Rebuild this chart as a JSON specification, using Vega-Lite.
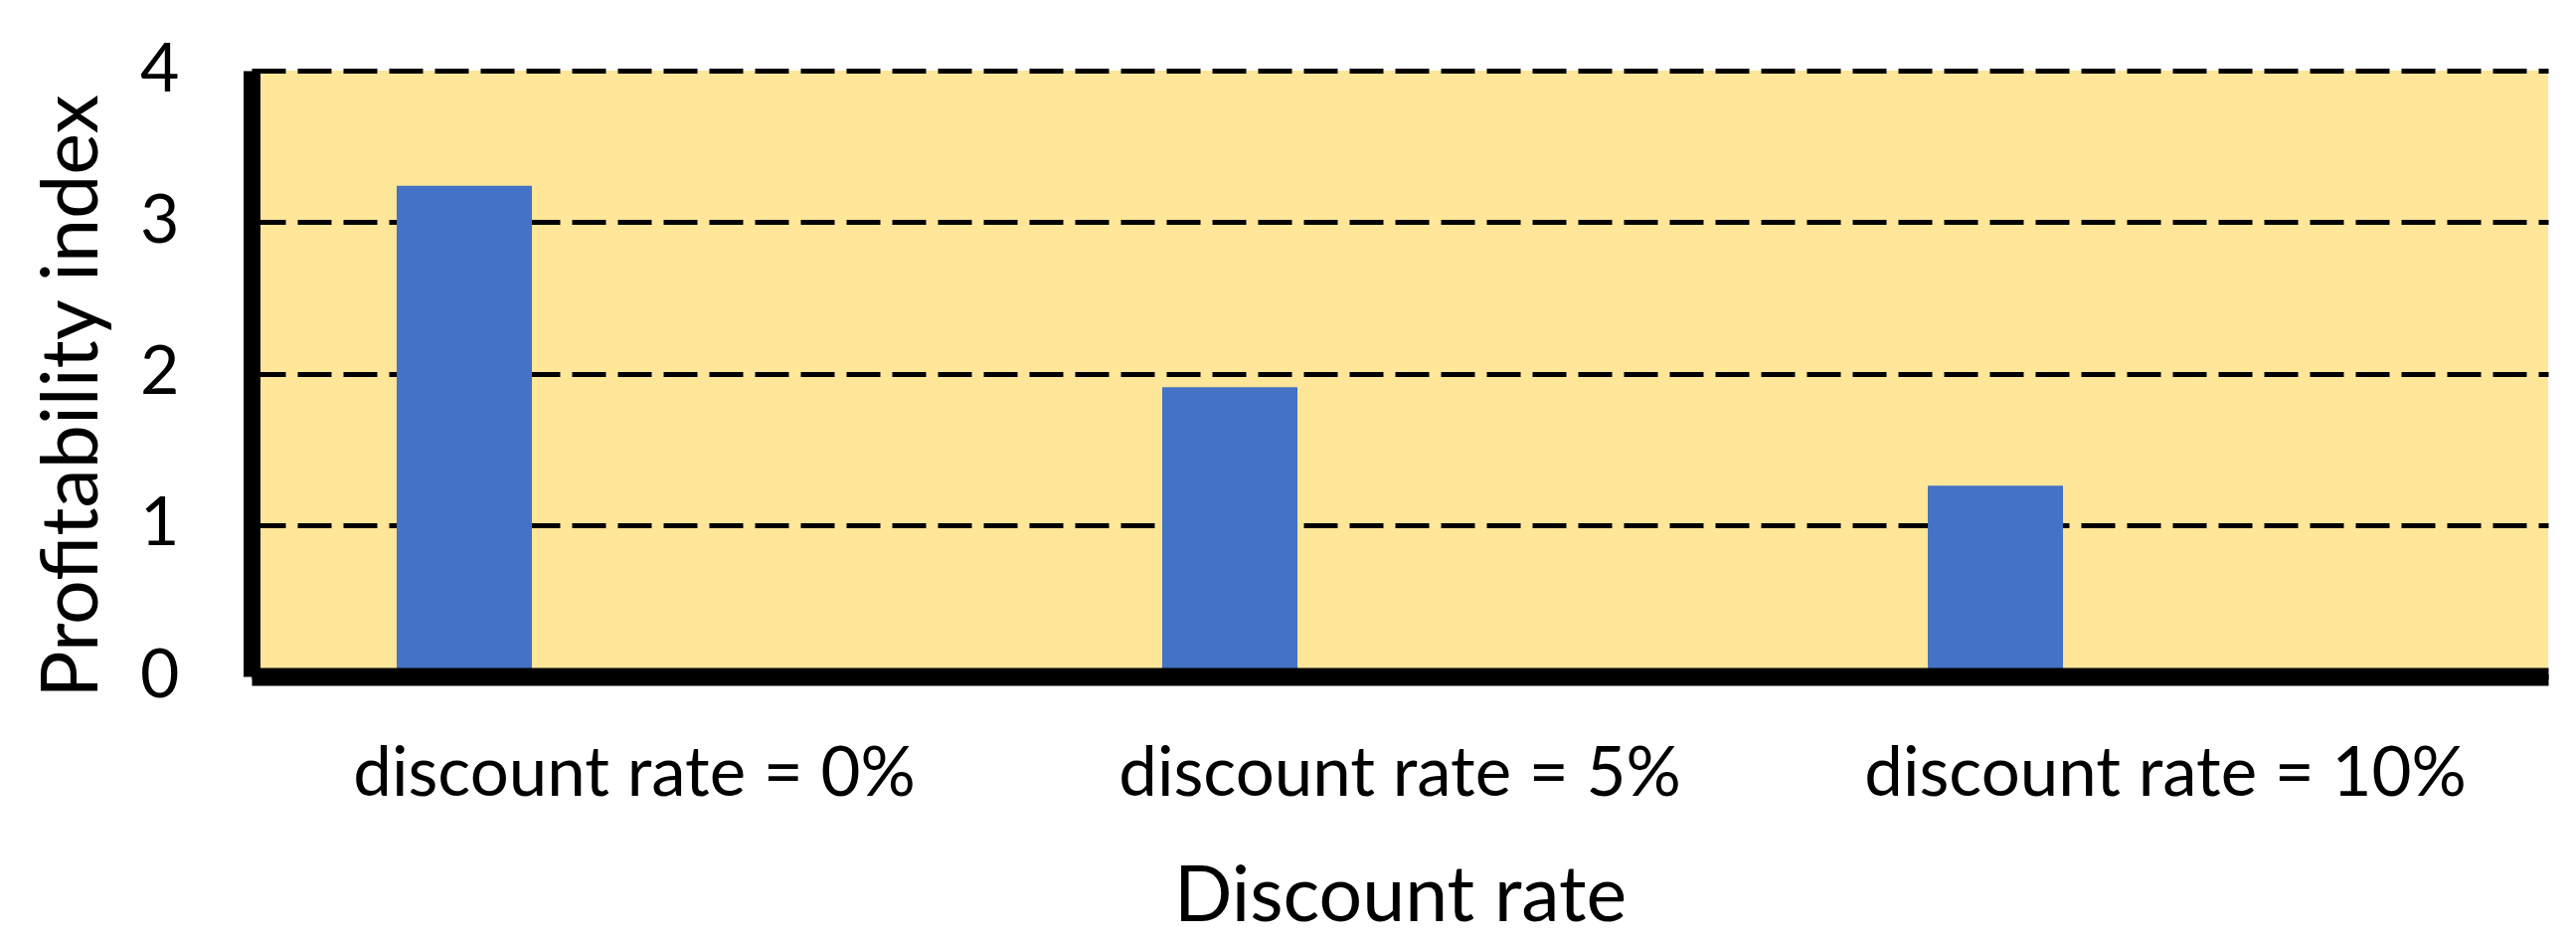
{
  "$schema": "https://vega.github.io/schema/vega-lite/v6.json",
  "width": 2310,
  "height": 609,
  "autosize": {"type": "none"},
  "padding": {"left": 253, "top": 71, "right": 28, "bottom": 270},
  "background": "white",
  "config": {
    "font": "Lato",
    "view": {"fill": "#FFE699", "stroke": null}
  },
  "data": {
    "values": [
      {"rate": "discount rate = 0%", "series": "Profitability index", "value": 3.24},
      {"rate": "discount rate = 5%", "series": "Profitability index", "value": 1.91},
      {"rate": "discount rate = 10%", "series": "Profitability index", "value": 1.26}
    ]
  },
  "mark": {"type": "bar", "color": "#4472C4"},
  "encoding": {
    "x": {
      "field": "rate",
      "type": "nominal",
      "sort": null,
      "scale": {"paddingInner": 0, "paddingOuter": 0},
      "axis": {
        "title": "Discount rate",
        "labelAngle": 0,
        "labelFontSize": 69,
        "labelLimit": 0,
        "labelColor": "black",
        "labelFont": "Lato",
        "labelPadding": 64,
        "labelBaseline": "top",
        "ticks": false,
        "tickSize": 0,
        "domainColor": "black",
        "domainWidth": 18,
        "domainCap": "butt",
        "titleFontSize": 77,
        "titleFontWeight": "normal",
        "titleColor": "black",
        "titleFont": "Lato",
        "titleBaseline": "alphabetic",
        "titleY": 245,
        "zindex": 1
      }
    },
    "xOffset": {
      "field": "series",
      "type": "nominal",
      "scale": {"domain": ["Profitability index", "empty"], "paddingInner": 0.6023, "paddingOuter": 0.4269}
    },
    "y": {
      "field": "value",
      "type": "quantitative",
      "scale": {"domain": [0, 4], "nice": false},
      "axis": {
        "title": "Profitability index",
        "values": [0, 1, 2, 3, 4],
        "format": "d",
        "labelFontSize": 68,
        "labelColor": "black",
        "labelFont": "Lato",
        "labelPadding": 73,
        "ticks": false,
        "tickSize": 0,
        "domainColor": "black",
        "domainWidth": 17,
        "domainCap": "butt",
        "grid": true,
        "gridColor": "black",
        "gridWidth": 5,
        "gridDash": [34, 12],
        "gridOpacity": 1,
        "titleFontSize": 79,
        "titleFontWeight": "normal",
        "titleColor": "black",
        "titleFont": "Lato",
        "titleBaseline": "alphabetic",
        "titleAlign": "center",
        "titleAngle": -90,
        "titleX": -156,
        "titleY": 327
      }
    }
  }
}
